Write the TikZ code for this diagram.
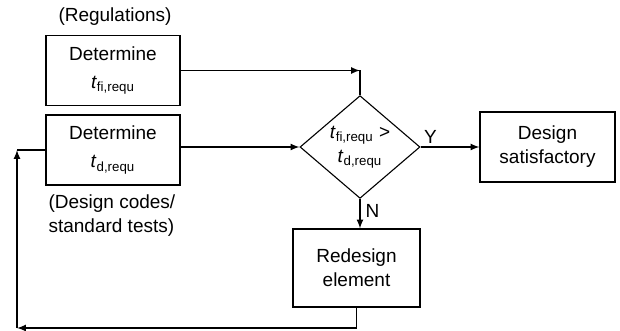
\documentclass[tikz,border=0pt]{standalone}
\usepackage{fontspec}
\setmainfont{Liberation Sans}
\usetikzlibrary{shapes.geometric}

\begin{document}
\begin{tikzpicture}[x=.5pt,y=-.5pt,>=latex,line width=.55pt,
  box/.style={draw,minimum width=67pt,minimum height=35pt,align=center,inner sep=0pt},
  test/.style={draw,diamond,minimum width=60pt,minimum height=44pt,inner sep=0pt,align=center},
  note/.style={align=left,inner sep=0pt}]
\useasboundingbox (0,0) rectangle (620,331);
\fontsize{9.5}{12}\selectfont
\node[note] (regs) at (115,17) {(Regulations)};
\node[box] (fi) at (113,70.5) {Determine\\[2pt] \textit{t}\textsubscript{fi,requ}};
\node[box] (dd) at (113,150) {Determine\\[2pt] \textit{t}\textsubscript{d,requ}};
\node[note,anchor=north west] (codes) at (48,194) {(Design codes/\\standard tests)};
\node[test] (cmp) at (360,147) {\textit{t}\textsubscript{fi,requ} >\\ \textit{t}\textsubscript{d,requ}};
\node[box,minimum width=67.5pt] (sat) at (547.5,147) {Design\\satisfactory};
\node[box,minimum width=63.5pt,minimum height=39pt] (red) at (356.5,268) {Redesign\\element};
% top input comes in from above
\coordinate (bend) at (cmp.north |- fi.east);
\draw[->] (fi.east) -- (bend);
\draw (bend) -- (cmp.north);
\draw[->] (dd.east |- cmp.west) -- (cmp.west);
\draw[->] (cmp.east) -- node[pos=0,anchor=south west,inner sep=1.5pt] {Y} (sat.west);
\draw[->] (cmp.south) -- node[pos=0,anchor=north west,inner sep=2.5pt] {N} (cmp.south |- red.north);
% loop back
\coordinate (lowL) at (17,328);
\coordinate (lowR) at (red.south |- lowL);
\coordinate (upL) at (lowL |- dd.west);
\draw[->] (red.south) -- (lowR) -- (lowL);
\draw[->] (lowL) -- (upL);
\draw (upL) -- (dd.west);
\end{tikzpicture}
\end{document}
